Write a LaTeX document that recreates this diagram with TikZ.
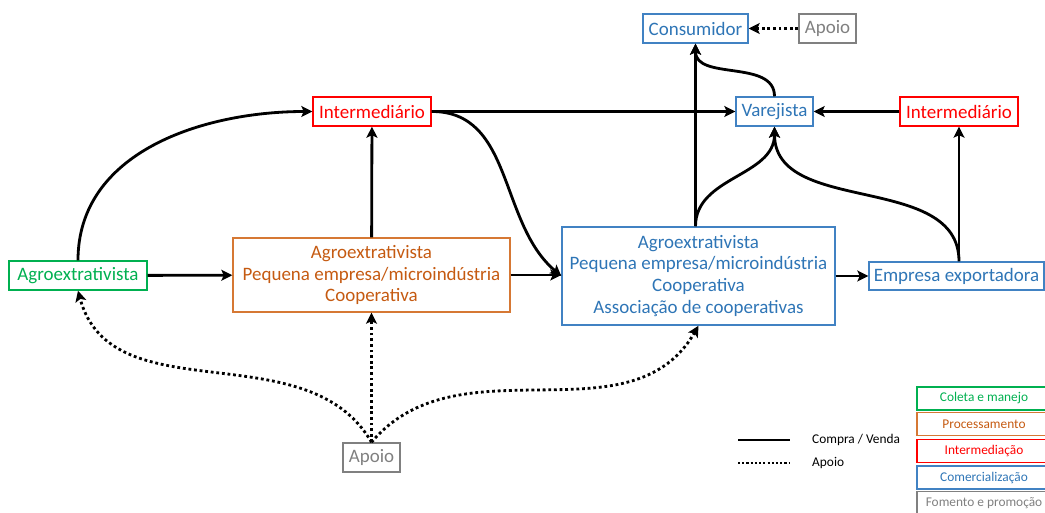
\documentclass[tikz,border=0pt]{standalone}
\usepackage{fontspec}
\setmainfont{Carlito}
\usetikzlibrary{arrows.meta}

\definecolor{cgreen}{RGB}{0,176,80}
\definecolor{corange}{RGB}{197,90,17}
\definecolor{corangeb}{RGB}{214,120,52}
\definecolor{cred}{RGB}{255,0,0}
\definecolor{cblue}{RGB}{46,117,182}
\definecolor{cblueb}{RGB}{65,130,195}
\definecolor{cgray}{RGB}{128,128,128}

\begin{document}
\begin{tikzpicture}[
    box/.style={draw, line width=0.8pt, inner sep=0pt, minimum height=0.58cm,
        align=center, font=\fontsize{10.8}{12.5}\selectfont},
    leg/.style={draw, line width=0.8pt, inner sep=0pt, minimum width=2.68cm,
        minimum height=0.46cm, font=\fontsize{7.6}{9}\selectfont},
    sale/.style={line width=1.6pt, -{Stealth[length=2.2mm, width=2.2mm, inset=0.5mm]}},
    help/.style={sale, dash pattern=on 1.6pt off 1.6pt}
]
    \path[use as bounding box, clip] (0,0) rectangle (20.9,10.26);

    % chain
    \node[box, draw=cblueb, text=cblue, minimum width=2.1cm] (cons) at (13.91,9.69) {Consumidor};
    \node[box, draw=cgray, text=cgray, minimum width=1.14cm] (apt) at (16.55,9.69) {Apoio};
    \node[box, draw=cred, text=cred, minimum width=2.36cm] (intl) at (7.44,8.03) {Intermediário};
    \node[box, draw=cblueb, text=cblue, minimum width=1.54cm] (varej) at (15.49,8.03) {Varejista};
    \node[box, draw=cred, text=cred, minimum width=2.36cm] (intr) at (19.18,8.03) {Intermediário};
    \node[box, draw=cgreen, text=cgreen, minimum width=2.76cm] (agro) at (1.56,4.75) {Agroextrativista};
    \node[box, draw=corangeb, text=corange, minimum width=5.54cm, minimum height=1.48cm] (proc) at (7.43,4.76)
        {Agroextrativista\\Pequena empresa/microindústria\\Cooperativa};
    \node[box, draw=cblueb, text=cblue, minimum width=5.46cm, minimum height=1.96cm] (com) at (13.97,4.74)
        {Agroextrativista\\Pequena empresa/microindústria\\Cooperativa\\Associação de cooperativas};
    \node[box, draw=cblueb, text=cblue, minimum width=3.5cm, minimum height=0.56cm] (exp) at (19.13,4.74) {Empresa exportadora};
    \node[box, draw=cgray, text=cgray, minimum width=1.14cm] (apb) at (7.43,1.11) {Apoio};

    \draw[sale] (agro.north) to[out=90, in=180] (intl.west);
    \draw[sale] (agro) -- (proc);
    \draw[sale] (proc) -- (intl);
    \draw[sale] (intl) -- (varej);
    \draw[sale] (intl.east) to[out=0, in=140] (com.west);
    \draw[sale] (proc.east) -- (proc.east -| com.west);
    \draw[sale] (cons.south |- com.north) -- (cons.south);
    \draw[sale] (cons.south |- com.north) to[out=90, in=-90] (varej.south);
    \draw[sale] (varej.north) to[out=90, in=-90] (cons.south);
    \draw[sale] (intr.south |- exp.north) -- (intr.south);
    \draw[sale] (intr.south |- exp.north) to[out=90, in=-90] (varej.south);
    \draw[sale] (intr) -- (varej);
    \draw[sale] (com) -- (exp);

    \draw[help] (apt) -- (cons);
    \draw[help] (apb) -- (proc);
    \draw[help] (apb.north) to[out=120, in=-75] (agro.south);
    \draw[help] (apb.north) to[out=50, in=-120] (com.south);

    % legend
    \coordinate (s1) at (14.76,1.46);
    \coordinate (s2) at (15.8,1.46);
    \coordinate (d1) at (14.76,1.0);
    \coordinate (d2) at (15.8,1.0);
    \draw[line width=1.4pt] (s1) -- (s2);
    \draw[line width=1.2pt, dash pattern=on 1.2pt off 1.2pt] (d1) -- (d2);
    \node[anchor=west, font=\fontsize{7.6}{9}\selectfont] (ls) at (16.12,1.46) {Compra / Venda};
    \node[anchor=west, font=\fontsize{7.6}{9}\selectfont] (ld) at (16.12,1.0) {Apoio};

    \node[leg, draw=cgreen, text=cgreen] (k1) at (19.68,2.29) {Coleta e manejo};
    \node[leg, draw=corangeb, text=corange] (k2) at (19.68,1.78) {Processamento};
    \node[leg, draw=cred, text=cred] (k3) at (19.68,1.24) {Intermediação};
    \node[leg, draw=cblueb, text=cblue] (k4) at (19.68,0.71) {Comercialização};
    \node[leg, draw=cgray, text=cgray] (k5) at (19.68,0.2) {Fomento e promoção};
\end{tikzpicture}
\end{document}
